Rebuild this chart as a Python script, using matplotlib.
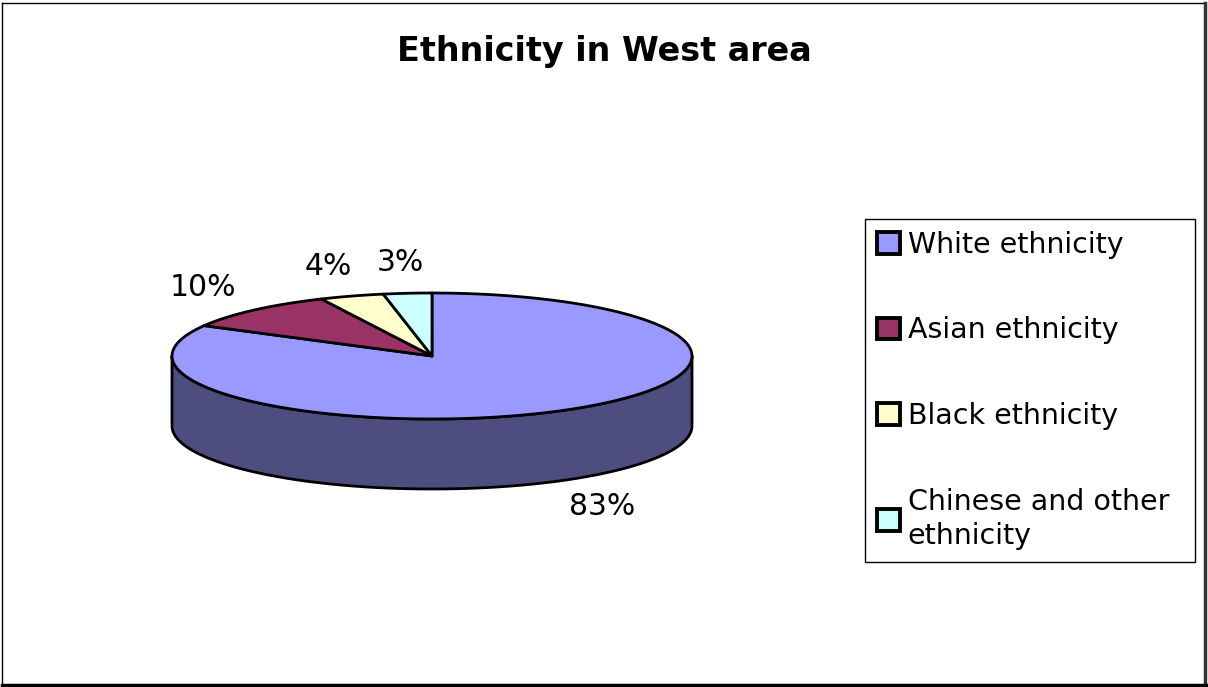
import numpy as np
import matplotlib
matplotlib.use("Agg")
import matplotlib.pyplot as plt
from matplotlib.patches import Polygon, Patch

# data
categories = ["White ethnicity", "Asian ethnicity", "Black ethnicity",
              "Chinese and other\nethnicity"]
shares = [83, 10, 4, 3]
colors = ["#9999FF", "#993366", "#FFFFCC", "#CCFFFF"]
title = "Ethnicity in West area"


def darker(c, f=0.5):
    r, g, b = matplotlib.colors.to_rgb(c)
    return (r * f, g * f, b * f)


def draw_plot():
    fig = plt.figure(figsize=(12.08, 6.87), dpi=100)
    ax = fig.add_axes([0, 0, 1, 1])
    ax.set_xlim(0, 1208)
    ax.set_ylim(687, 0)
    ax.axis("off")

    # pie geometry (pixels)
    cx, cy = 432, 356
    a, b = 260, 63
    depth = 70

    def pt(t, dz=0):
        t = np.radians(t)
        return cx + a * np.cos(t), cy - b * np.sin(t) + dz

    fracs = np.array(shares, dtype=float) / sum(shares)
    ends = 90 - np.cumsum(fracs) * 360
    starts = np.concatenate([[90], ends[:-1]])

    # side walls (front half only, 180..360 deg)
    for i in range(len(shares)):
        t1, t2 = ends[i], starts[i]
        for k in (-1, 0, 1):
            lo = max(t1 + 360 * k, 180)
            hi = min(t2 + 360 * k, 360)
            if hi > lo:
                ts = np.linspace(lo, hi, 120)
                top = [pt(t) for t in ts]
                bot = [pt(t, depth) for t in ts[::-1]]
                ax.add_patch(Polygon(top + bot, closed=True,
                                     facecolor=darker(colors[i]),
                                     edgecolor="black", lw=2.0,
                                     joinstyle="round", zorder=2))

    # top face wedges
    for i in range(len(shares)):
        ts = np.linspace(starts[i], ends[i], 200)
        verts = [(cx, cy)] + [pt(t) for t in ts]
        ax.add_patch(Polygon(verts, closed=True, facecolor=colors[i],
                             edgecolor="black", lw=2.0,
                             joinstyle="round", zorder=3))

    # percentage labels
    for i in range(len(shares)):
        mid = (starts[i] + ends[i]) / 2
        r = np.radians(mid)
        x = cx + (a + 75) * np.cos(r)
        y = cy - (b + 31) * np.sin(r)
        if np.sin(r) < 0:
            y += depth
        ax.text(x, y, f"{shares[i]}%", ha="center", va="center",
                fontsize=21.5, zorder=4)

    ax.text(604, 61, title, ha="center", va="baseline",
            fontsize=24, fontweight="bold")

    handles = [Patch(facecolor=c, edgecolor="black", lw=2.8) for c in colors]
    leg = ax.legend(handles, categories, loc="upper left",
                    bbox_to_anchor=(865 / 1208, 1 - 219 / 687, 330 / 1208, 0),
                    mode="expand", borderaxespad=0, fontsize=20.5,
                    fancybox=False, edgecolor="black", framealpha=1,
                    handlelength=0.8, handleheight=0.8, handletextpad=0.28,
                    labelspacing=2.02, borderpad=0.42)
    leg.get_frame().set_linewidth(1.0)
    for t in leg.get_texts():
        t.set_linespacing(1.3)

    # chart border with shadow on bottom/right
    ax.plot([2, 1205], [3, 3], color="black", lw=1, clip_on=False)
    ax.plot([2, 2], [3, 684], color="black", lw=1, clip_on=False)
    ax.plot([1205, 1205], [3, 685], color="#333333", lw=2.5, clip_on=False)
    ax.plot([2, 1206], [684.5, 684.5], color="black", lw=2.5, clip_on=False)

    fig.savefig("out.png", dpi=100)


draw_plot()
